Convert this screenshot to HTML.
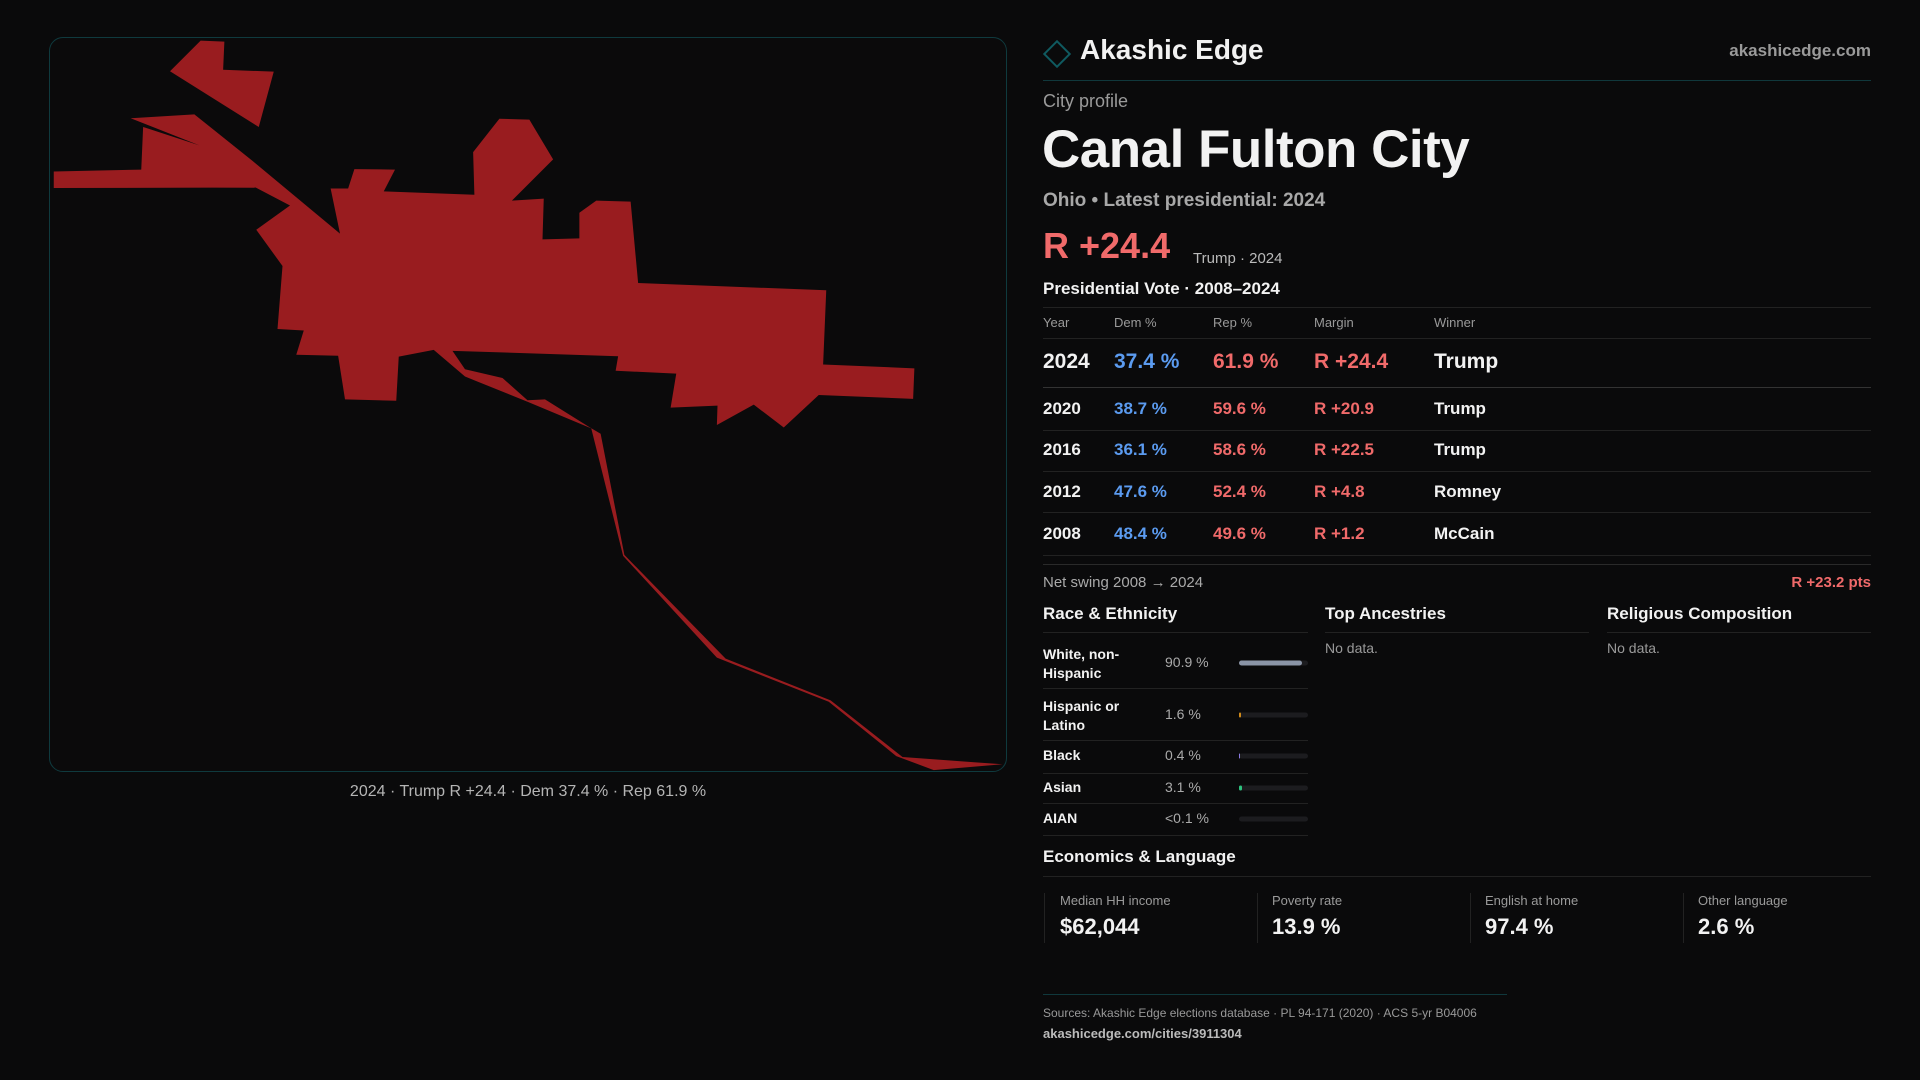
<!DOCTYPE html>
<html><head><meta charset="utf-8">
<style>
*{margin:0;padding:0;box-sizing:border-box}
body{width:1920px;height:1080px;background:#0a0a0b;font-family:"Liberation Sans",sans-serif;color:#f2f2f2;position:relative;overflow:hidden}
.a{position:absolute;white-space:nowrap}
.g{color:#9a9a9a}
.ln{position:absolute;height:1px;background:#222}
.bl{color:#5b9bf0}.rd{color:#f06a6a}
.t{font-size:17px;transform:translateY(-50%)}
.bar{position:absolute;left:1239px;width:69px;height:5px;border-radius:3px;background:#1c1c1f;transform:translateY(-50%)}
.bar i{display:block;height:100%;border-radius:3px}
</style></head><body>
<div class="a" style="left:49px;top:37px;width:958px;height:735px;border:1px solid #0f3a3e;border-radius:14px;background:#0b0a0b"></div>
<svg class="a" style="left:40px;top:30px" width="980" height="760" viewBox="0 0 1568 1568" preserveAspectRatio="none">
<polygon fill="#991c1f" points="208,85 257,22 295,24 293,82 374,86 350,200"/>
<polygon fill="#991c1f" points="22,292 162,288 165,200 255,238 145,182 247,174 340,270 480,420 465,327 493,327 503,287 568,288 550,333 695,340 693,252 735,183 783,185 821,267 755,352 806,348 804,432 863,430 863,377 890,352 945,354 957,522 1258,537 1253,690 1399,698 1397,761 1246,753 1190,820 1142,773 1083,815 1084,775 1009,779 1018,709 921,703 925,673 660,662 680,700 740,718 780,764 808,762 880,820 897,833 935,1083 1097,1297 1265,1383 1380,1500 1540,1515 1430,1527 1370,1498 1262,1386 1083,1295 933,1085 882,822 780,767 680,715 630,660 574,674 570,765 488,762 477,672 410,670 422,620 380,617 388,487 346,412 400,362 345,325 22,326"/>
</svg>
<div class="a g" style="left:528px;top:783px;transform:translateX(-50%);font-size:16px;color:#b5b5b5">2024 · Trump R +24.4 · Dem 37.4 % · Rep 61.9 %</div>

<div class="a" style="left:1047px;top:44px;width:20px;height:20px;border:2px solid #0f5a60;transform:rotate(45deg)"></div>
<div class="a" style="left:1080px;top:34px;font-size:28px;font-weight:bold">Akashic Edge</div>
<div class="a g" style="right:49px;top:41px;font-size:17px;font-weight:bold">akashicedge.com</div>
<div class="ln" style="left:1043px;top:80px;width:828px;background:#10383c"></div>
<div class="a g" style="left:1043px;top:91px;font-size:18px">City profile</div>
<div class="a" style="left:1042px;top:119px;font-size:53px;font-weight:bold;letter-spacing:-0.5px">Canal Fulton City</div>
<div class="a" style="left:1043px;top:190px;font-size:19px;font-weight:bold;color:#a8a8a8">Ohio • Latest presidential: 2024</div>
<div class="a rd" style="left:1043px;top:225px;font-size:36px;font-weight:bold">R +24.4</div>
<div class="a" style="left:1193px;top:250px;font-size:15px;color:#bbb">Trump · 2024</div>
<div class="a" style="left:1043px;top:279px;font-size:17px;font-weight:bold">Presidential Vote · 2008–2024</div>
<div class="ln" style="left:1043px;top:307px;width:828px"></div>
<div class="a g" style="left:1043px;top:315px;font-size:13px">Year</div>
<div class="a g" style="left:1114px;top:315px;font-size:13px">Dem %</div>
<div class="a g" style="left:1213px;top:315px;font-size:13px">Rep %</div>
<div class="a g" style="left:1314px;top:315px;font-size:13px">Margin</div>
<div class="a g" style="left:1434px;top:315px;font-size:13px">Winner</div>
<div class="ln" style="left:1043px;top:338px;width:828px"></div>
<div class="a" style="left:0;top:362px;font-size:21px;font-weight:bold">
<span class="a t" style="left:1043px;font-size:21px">2024</span><span class="a t bl" style="left:1114px;font-size:21px">37.4 %</span><span class="a t rd" style="left:1213px;font-size:21px">61.9 %</span><span class="a t rd" style="left:1314px;font-size:21px">R +24.4</span><span class="a t" style="left:1434px;font-size:21px">Trump</span></div>
<div class="ln" style="left:1043px;top:387px;width:828px;background:#333"></div>
<div class="a" style="left:0;top:409px;font-weight:bold"><span class="a t" style="left:1043px">2020</span><span class="a t bl" style="left:1114px">38.7 %</span><span class="a t rd" style="left:1213px">59.6 %</span><span class="a t rd" style="left:1314px">R +20.9</span><span class="a t" style="left:1434px">Trump</span></div>
<div class="ln" style="left:1043px;top:430px;width:828px"></div>
<div class="a" style="left:0;top:450px;font-weight:bold"><span class="a t" style="left:1043px">2016</span><span class="a t bl" style="left:1114px">36.1 %</span><span class="a t rd" style="left:1213px">58.6 %</span><span class="a t rd" style="left:1314px">R +22.5</span><span class="a t" style="left:1434px">Trump</span></div>
<div class="ln" style="left:1043px;top:471px;width:828px"></div>
<div class="a" style="left:0;top:492px;font-weight:bold"><span class="a t" style="left:1043px">2012</span><span class="a t bl" style="left:1114px">47.6 %</span><span class="a t rd" style="left:1213px">52.4 %</span><span class="a t rd" style="left:1314px">R +4.8</span><span class="a t" style="left:1434px">Romney</span></div>
<div class="ln" style="left:1043px;top:512px;width:828px"></div>
<div class="a" style="left:0;top:534px;font-weight:bold"><span class="a t" style="left:1043px">2008</span><span class="a t bl" style="left:1114px">48.4 %</span><span class="a t rd" style="left:1213px">49.6 %</span><span class="a t rd" style="left:1314px">R +1.2</span><span class="a t" style="left:1434px">McCain</span></div>
<div class="ln" style="left:1043px;top:555px;width:828px"></div>
<div class="ln" style="left:1043px;top:564px;width:828px;background:#2a2a2a"></div>
<div class="a" style="left:1043px;top:574px;font-size:15px;color:#aaa">Net swing 2008 → 2024</div>
<div class="a rd" style="right:49px;top:574px;font-size:15px;font-weight:bold">R +23.2 pts</div>

<div class="a" style="left:1043px;top:604px;font-size:17px;font-weight:bold">Race &amp; Ethnicity</div>
<div class="a" style="left:1325px;top:604px;font-size:17px;font-weight:bold">Top Ancestries</div>
<div class="a" style="left:1607px;top:604px;font-size:17px;font-weight:bold">Religious Composition</div>
<div class="ln" style="left:1043px;top:632px;width:265px"></div>
<div class="ln" style="left:1325px;top:632px;width:264px"></div>
<div class="ln" style="left:1607px;top:632px;width:264px"></div>
<div class="a g" style="left:1325px;top:640px;font-size:14px">No data.</div>
<div class="a g" style="left:1607px;top:640px;font-size:14px">No data.</div>

<div class="a" style="left:1043px;top:645px;font-size:14px;font-weight:bold;line-height:19px">White, non-<br>Hispanic</div>
<div class="a" style="left:1165px;top:654px;font-size:14px;color:#aaa">90.9 %</div>
<div class="bar" style="top:663px"><i style="width:91%;background:#8a94a6"></i></div>
<div class="ln" style="left:1043px;top:688px;width:265px"></div>
<div class="a" style="left:1043px;top:697px;font-size:14px;font-weight:bold;line-height:19px">Hispanic or<br>Latino</div>
<div class="a" style="left:1165px;top:706px;font-size:14px;color:#aaa">1.6 %</div>
<div class="bar" style="top:715px"><i style="width:2px;background:#d08a1a"></i></div>
<div class="ln" style="left:1043px;top:740px;width:265px"></div>
<div class="a" style="left:1043px;top:747px;font-size:14px;font-weight:bold">Black</div>
<div class="a" style="left:1165px;top:747px;font-size:14px;color:#aaa">0.4 %</div>
<div class="bar" style="top:756px"><i style="width:1px;background:#8a7ae0"></i></div>
<div class="ln" style="left:1043px;top:773px;width:265px"></div>
<div class="a" style="left:1043px;top:779px;font-size:14px;font-weight:bold">Asian</div>
<div class="a" style="left:1165px;top:779px;font-size:14px;color:#aaa">3.1 %</div>
<div class="bar" style="top:788px"><i style="width:3px;background:#2ec27e"></i></div>
<div class="ln" style="left:1043px;top:803px;width:265px"></div>
<div class="a" style="left:1043px;top:810px;font-size:14px;font-weight:bold">AIAN</div>
<div class="a" style="left:1165px;top:810px;font-size:14px;color:#aaa">&lt;0.1 %</div>
<div class="bar" style="top:819px"></div>
<div class="ln" style="left:1043px;top:835px;width:265px"></div>

<div class="a" style="left:1043px;top:847px;font-size:17px;font-weight:bold">Economics &amp; Language</div>
<div class="ln" style="left:1043px;top:876px;width:828px"></div>
<div class="a" style="left:1044px;top:893px;height:50px;border-left:1px solid #222;padding-left:15px"><div style="font-size:13px;color:#9a9a9a">Median HH income</div><div style="font-size:22px;font-weight:bold;margin-top:6px">$62,044</div></div>
<div class="a" style="left:1257px;top:893px;height:50px;border-left:1px solid #222;padding-left:14px"><div style="font-size:13px;color:#9a9a9a">Poverty rate</div><div style="font-size:22px;font-weight:bold;margin-top:6px">13.9 %</div></div>
<div class="a" style="left:1470px;top:893px;height:50px;border-left:1px solid #222;padding-left:14px"><div style="font-size:13px;color:#9a9a9a">English at home</div><div style="font-size:22px;font-weight:bold;margin-top:6px">97.4 %</div></div>
<div class="a" style="left:1683px;top:893px;height:50px;border-left:1px solid #222;padding-left:14px"><div style="font-size:13px;color:#9a9a9a">Other language</div><div style="font-size:22px;font-weight:bold;margin-top:6px">2.6 %</div></div>

<div class="ln" style="left:1043px;top:994px;width:464px;background:#10383c"></div>
<div class="a" style="left:1043px;top:1006px;font-size:12px;color:#999">Sources: Akashic Edge elections database · PL 94-171 (2020) · ACS 5-yr B04006</div>
<div class="a" style="left:1043px;top:1026px;font-size:13px;font-weight:bold;color:#bbb">akashicedge.com/cities/3911304</div>
</body></html>
